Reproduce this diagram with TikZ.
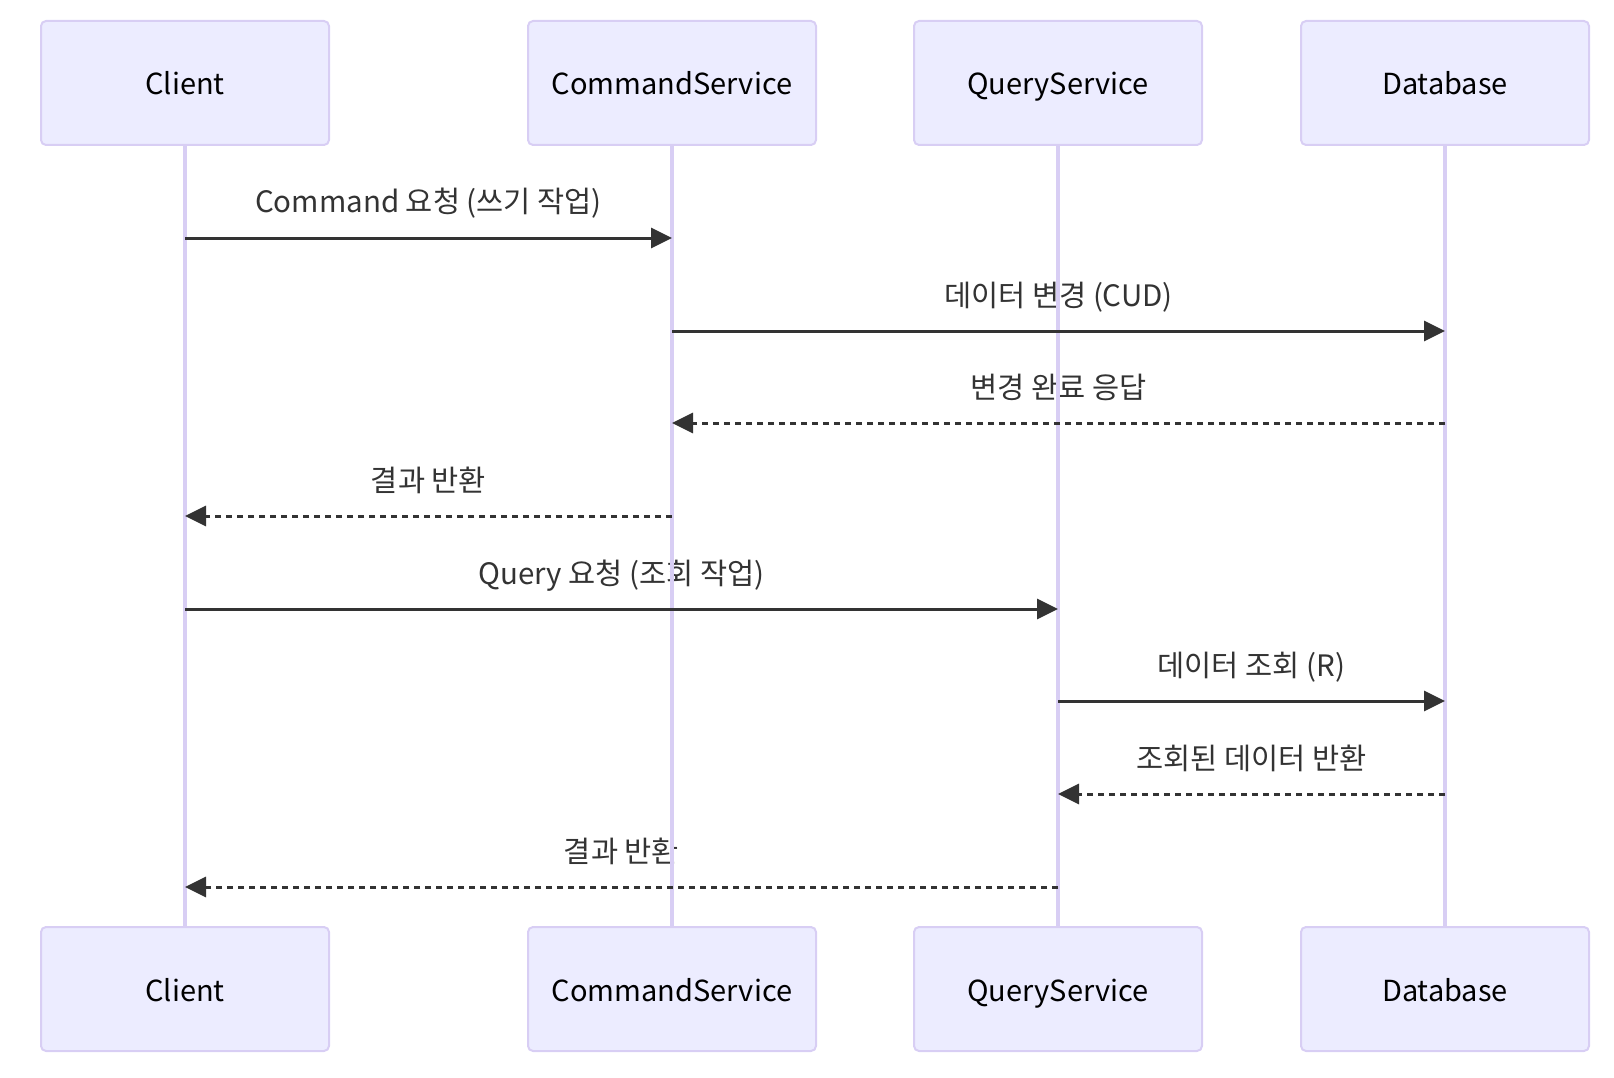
\documentclass[tikz,border=0pt]{standalone}
\usepackage{fontspec}
\setmainfont{Noto Sans CJK KR}
\usetikzlibrary{arrows.meta}
\definecolor{actfill}{HTML}{ECECFF}
\definecolor{actline}{HTML}{D8CEF4}
\definecolor{ink}{HTML}{333333}
\begin{document}
\begin{tikzpicture}[x=1pt,y=-1pt,
 actor/.style={draw=actline, line width=2pt, fill=actfill, rounded corners=5pt,
   minimum width=288pt, minimum height=124pt, inner sep=0pt},
 actortext/.style={anchor=base, inner sep=0pt, font=\fontsize{29}{35}\selectfont, text=black},
 life/.style={draw=actline, line width=3.5pt},
 msg/.style={draw=ink, line width=3pt, -{Triangle[length=21pt,width=20pt]}},
 reply/.style={msg, dash pattern=on 6pt off 5pt},
 lbl/.style={anchor=base, font=\fontsize{29.5}{35}\selectfont, text=ink, inner sep=0pt}]
\useasboundingbox (0,0) rectangle (1614,1078);

% message labels
\node[lbl] (t1) at (428.5,213) {Command 요청 (쓰기 작업)};
\node[lbl] (t2) at (1058.5,306) {데이터 변경 (CUD)};
\node[lbl] (t3) at (1058.5,398) {변경 완료 응답};
\node[lbl] (t4) at (428.5,491) {결과 반환};
\node[lbl] (t5) at (621.5,584) {Query 요청 (조회 작업)};
\node[lbl] (t6) at (1251.5,676) {데이터 조회 (R)};
\node[lbl] (t7) at (1251.5,769) {조회된 데이터 반환};
\node[lbl] (t8) at (621.5,862) {결과 반환};

% lifelines
\draw[life] (185,146) coordinate (cL1) -- (185,926) coordinate (cL2);
\draw[life] (672,146) coordinate (mL1) -- (672,926) coordinate (mL2);
\draw[life] (1058,146) coordinate (qL1) -- (1058,926) coordinate (qL2);
\draw[life] (1445,146) coordinate (dL1) -- (1445,926) coordinate (dL2);

% message end points
\coordinate (c1) at (cL1 |- 0,238);  \coordinate (m1) at (mL1 |- 0,238);
\coordinate (m2) at (mL1 |- 0,331);  \coordinate (d2) at (dL1 |- 0,331);
\coordinate (d3) at (dL1 |- 0,423);  \coordinate (m3) at (mL1 |- 0,423);
\coordinate (m4) at (mL1 |- 0,516);  \coordinate (c4) at (cL1 |- 0,516);
\coordinate (c5) at (cL1 |- 0,609);  \coordinate (q5) at (qL1 |- 0,609);
\coordinate (q6) at (qL1 |- 0,701);  \coordinate (d6) at (dL1 |- 0,701);
\coordinate (d7) at (dL1 |- 0,794);  \coordinate (q7) at (qL1 |- 0,794);
\coordinate (q8) at (qL1 |- 0,887);  \coordinate (c8) at (cL1 |- 0,887);

\draw[msg] (c1) -- (m1);
\draw[msg] (m2) -- (d2);
\draw[reply] (d3) -- (m3);
\draw[reply] (m4) -- (c4);
\draw[msg] (c5) -- (q5);
\draw[msg] (q6) -- (d6);
\draw[reply] (d7) -- (q7);
\draw[reply] (q8) -- (c8);

% participants
\node[actor] (cT) at (185,83) {};
\node[actor] (mT) at (672,83) {};
\node[actor] (qT) at (1058,83) {};
\node[actor] (dT) at (1445,83) {};
\node[actor] (cB) at (185,989) {};
\node[actor] (mB) at (672,989) {};
\node[actor] (qB) at (1058,989) {};
\node[actor] (dB) at (1445,989) {};
\node[actortext] (cTt) at (185,95) {Client};
\node[actortext] (mTt) at (672,95) {CommandService};
\node[actortext] (qTt) at (1058,95) {QueryService};
\node[actortext] (dTt) at (1445,95) {Database};
\node[actortext] (cBt) at (185,1001) {Client};
\node[actortext] (mBt) at (672,1001) {CommandService};
\node[actortext] (qBt) at (1058,1001) {QueryService};
\node[actortext] (dBt) at (1445,1001) {Database};
\end{tikzpicture}
\end{document}
